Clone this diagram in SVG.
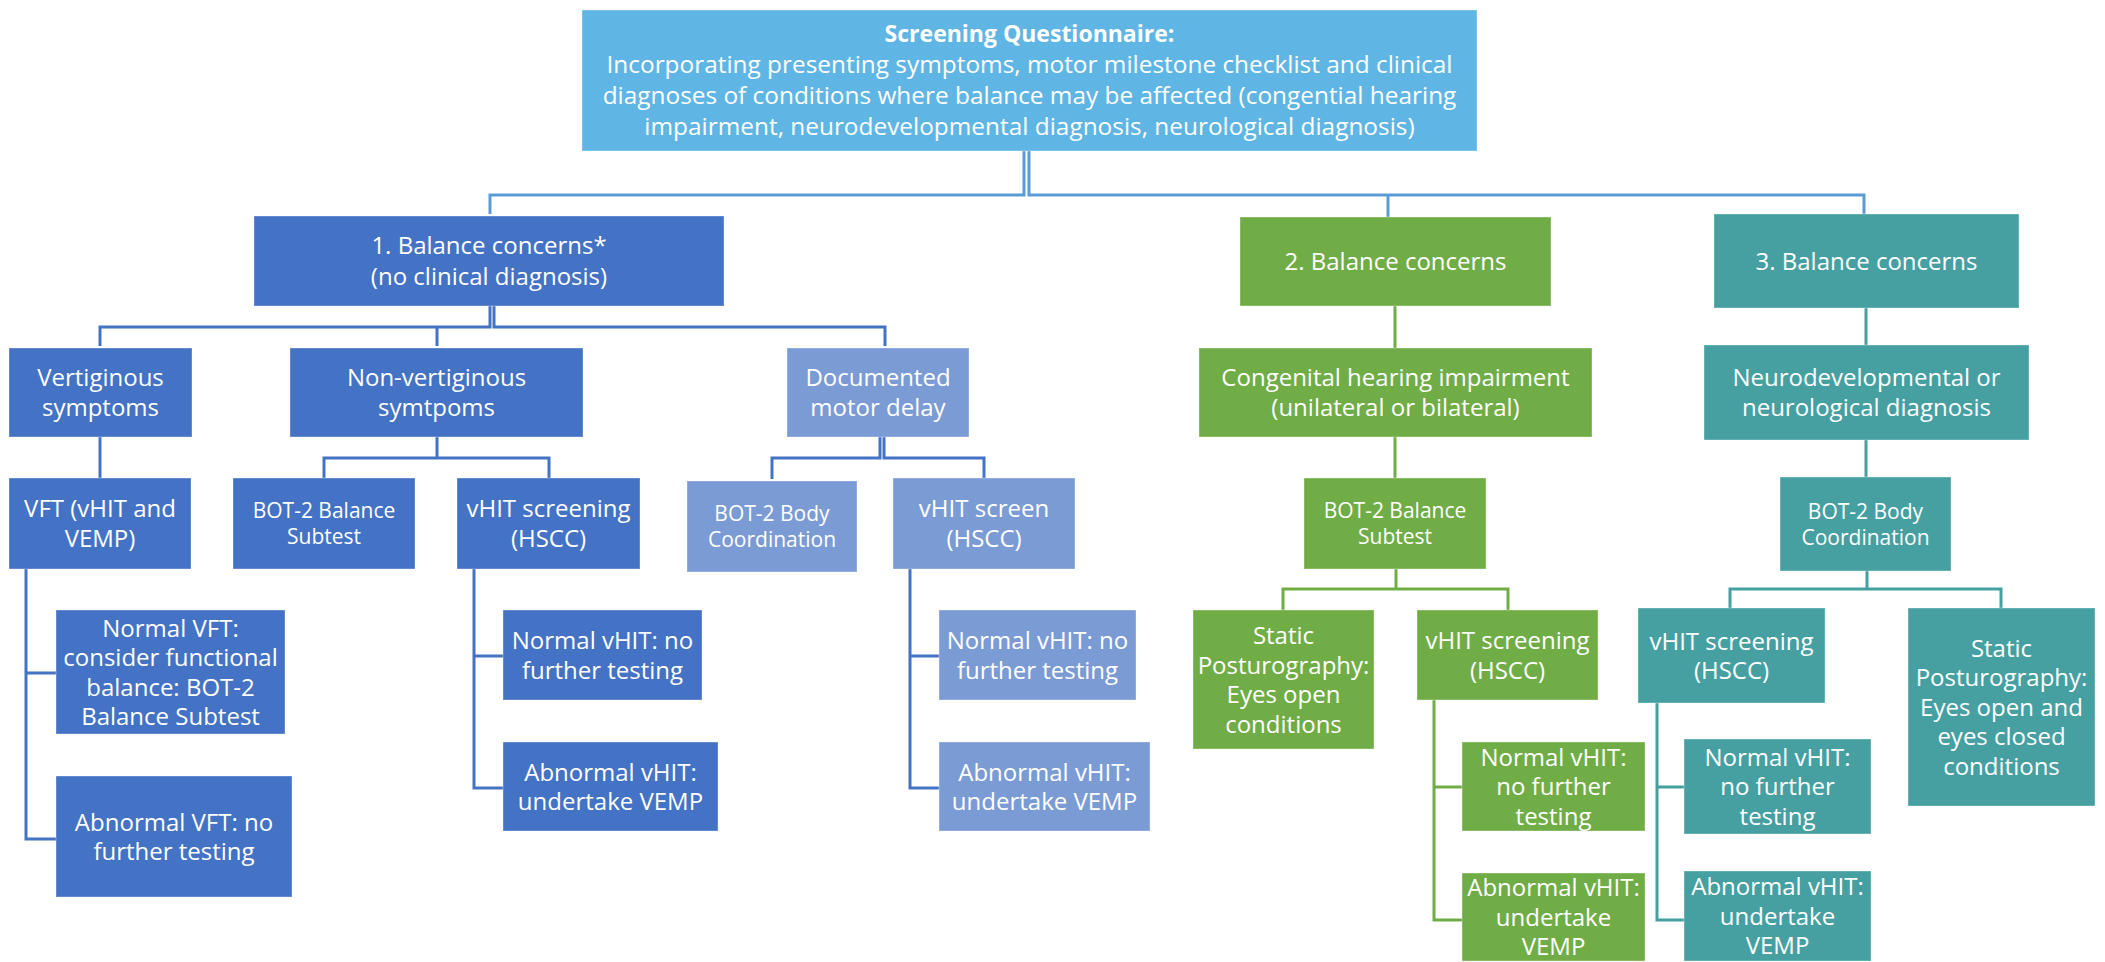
<svg xmlns="http://www.w3.org/2000/svg" width="2105" height="962" viewBox="0 0 2105 962">
<style>
text{font-family:"Open Sans","Liberation Sans",sans-serif;fill:#fff;text-anchor:middle}
.f24{font-size:24px}
.f21{font-size:21px}
.f23{font-size:24.4px}
.b{font-weight:bold;font-size:23px}
.sky{fill:#5FB6E4}
.blue{fill:#4472C4}
.lite{fill:#7B9BD5}
.green{fill:#70AD47}
.teal{fill:#46A0A2}
rect{stroke:#fff;stroke-opacity:0.35;stroke-width:1}
.c{fill:none;stroke-width:3}
.cs{stroke:#5B9BD5}
.cb{stroke:#4472C4}
.cg{stroke:#70AD47}
.ct{stroke:#46A0A2}
</style>
<rect width="2105" height="962" fill="#fff" stroke="none"/>
<g id="connectors">
<path class="c cs" d="M1024,151 V195 H490 V214"/>
<path class="c cs" d="M1029,151 V195 H1864 V214 M1388,195 V217"/>
<path class="c cb" stroke-width="2" d="M490,306 V327 H100 V346"/>
<path class="c cb" stroke-width="2" d="M494,306 V327 H885 V346"/>
<path class="c cb" d="M437,327 V346 M100,437 V478"/>
<path class="c cb" d="M437,437 V458 H324 V478 M437,458 H549 V478"/>
<path class="c cb" stroke-width="2" d="M880,437 V458 H772 V479"/>
<path class="c cb" stroke-width="2" d="M884,437 V458 H984 V478"/>
<path class="c cb" d="M26,569 V839 H56 M26,673 H56"/>
<path class="c cb" d="M474,569 V788 H503 M474,656 H503"/>
<path class="c cb" d="M910,569 V788 H939 M910,656 H939"/>
<path class="c cg" d="M1395,306 V348 M1395,437 V478"/>
<path class="c cg" d="M1396,569 V589 H1283 V610 M1396,589 H1508 V610"/>
<path class="c cg" d="M1434,700 V920 H1462 M1434,787 H1462"/>
<path class="c ct" d="M1866,308 V345 M1866,440 V477"/>
<path class="c ct" d="M1867,571 V589 H1730 V608 M1867,589 H2001 V608"/>
<path class="c ct" d="M1657,703 V920 H1684 M1657,787 H1684"/>
</g>
<g id="screening">
<rect class="sky" x="582" y="10" width="895" height="141"/>
<text class="b" x="1029.5" y="42">Screening Questionnaire:</text>
<text class="f23" x="1029.5" y="73">Incorporating presenting symptoms, motor milestone checklist and clinical</text>
<text class="f23" x="1029.5" y="104">diagnoses of conditions where balance may be affected (congential hearing</text>
<text class="f23" x="1029.5" y="135">impairment, neurodevelopmental diagnosis, neurological diagnosis)</text>
</g>
<g id="n1">
<rect class="blue" x="254" y="216" width="470" height="90"/>
<text class="f24" x="489" y="254">1. Balance concerns*</text>
<text class="f24" x="489" y="285">(no clinical diagnosis)</text>
</g>
<g id="n2">
<rect class="green" x="1240" y="217" width="311" height="89"/>
<text class="f24" x="1395.5" y="270">2. Balance concerns</text>
</g>
<g id="n3">
<rect class="teal" x="1714" y="214" width="305" height="94"/>
<text class="f24" x="1866.5" y="269.5">3. Balance concerns</text>
</g>
<g id="vertiginous">
<rect class="blue" x="9" y="348" width="183" height="89"/>
<text class="f24" x="100.5" y="386">Vertiginous</text>
<text class="f24" x="100.5" y="416">symptoms</text>
</g>
<g id="nonvertiginous">
<rect class="blue" x="290" y="348" width="293" height="89"/>
<text class="f24" x="436.5" y="386">Non-vertiginous</text>
<text class="f24" x="436.5" y="416">symtpoms</text>
</g>
<g id="motordelay">
<rect class="lite" x="787" y="348" width="182" height="89"/>
<text class="f24" x="878" y="386">Documented</text>
<text class="f24" x="878" y="416">motor delay</text>
</g>
<g id="hearing">
<rect class="green" x="1199" y="348" width="393" height="89"/>
<text class="f24" x="1395.5" y="386">Congenital hearing impairment</text>
<text class="f24" x="1395.5" y="416">(unilateral or bilateral)</text>
</g>
<g id="neuro">
<rect class="teal" x="1704" y="345" width="325" height="95"/>
<text class="f24" x="1866.5" y="386">Neurodevelopmental or</text>
<text class="f24" x="1866.5" y="416">neurological diagnosis</text>
</g>
<g id="vft">
<rect class="blue" x="9" y="478" width="182" height="91"/>
<text class="f24" x="100" y="517">VFT (vHIT and</text>
<text class="f24" x="100" y="547">VEMP)</text>
</g>
<g id="bot2-balance-1">
<rect class="blue" x="233" y="478" width="182" height="91"/>
<text class="f21" x="324" y="518">BOT-2 Balance</text>
<text class="f21" x="324" y="544">Subtest</text>
</g>
<g id="vhit-1">
<rect class="blue" x="457" y="478" width="183" height="91"/>
<text class="f24" x="548.5" y="517">vHIT screening</text>
<text class="f24" x="548.5" y="547">(HSCC)</text>
</g>
<g id="bot2-body-1">
<rect class="lite" x="687" y="481" width="170" height="91"/>
<text class="f21" x="772" y="521">BOT-2 Body</text>
<text class="f21" x="772" y="547">Coordination</text>
</g>
<g id="vhit-screen-1">
<rect class="lite" x="893" y="478" width="182" height="91"/>
<text class="f24" x="984" y="517">vHIT screen</text>
<text class="f24" x="984" y="547">(HSCC)</text>
</g>
<g id="bot2-balance-2">
<rect class="green" x="1304" y="478" width="182" height="91"/>
<text class="f21" x="1395" y="518">BOT-2 Balance</text>
<text class="f21" x="1395" y="544">Subtest</text>
</g>
<g id="bot2-body-3">
<rect class="teal" x="1780" y="477" width="171" height="94"/>
<text class="f21" x="1865.5" y="518.5">BOT-2 Body</text>
<text class="f21" x="1865.5" y="544.5">Coordination</text>
</g>
<g id="normal-vft">
<rect class="blue" x="56" y="610" width="229" height="124"/>
<text class="f24" x="170.5" y="636.5">Normal VFT:</text>
<text class="f24" x="170.5" y="666">consider functional</text>
<text class="f24" x="170.5" y="695.5">balance: BOT-2</text>
<text class="f24" x="170.5" y="725">Balance Subtest</text>
</g>
<g id="abnormal-vft">
<rect class="blue" x="56" y="776" width="236" height="121"/>
<text class="f24" x="174" y="830.5">Abnormal VFT: no</text>
<text class="f24" x="174" y="860">further testing</text>
</g>
<g id="normal-vhit-1">
<rect class="blue" x="503" y="610" width="199" height="90"/>
<text class="f24" x="602.5" y="649">Normal vHIT: no</text>
<text class="f24" x="602.5" y="678.5">further testing</text>
</g>
<g id="abnormal-vhit-1">
<rect class="blue" x="503" y="742" width="215" height="89"/>
<text class="f24" x="610.5" y="780.5">Abnormal vHIT:</text>
<text class="f24" x="610.5" y="810">undertake VEMP</text>
</g>
<g id="normal-vhit-md">
<rect class="lite" x="939" y="610" width="197" height="90"/>
<text class="f24" x="1037.5" y="649">Normal vHIT: no</text>
<text class="f24" x="1037.5" y="678.5">further testing</text>
</g>
<g id="abnormal-vhit-md">
<rect class="lite" x="939" y="742" width="211" height="89"/>
<text class="f24" x="1044.5" y="780.5">Abnormal vHIT:</text>
<text class="f24" x="1044.5" y="810">undertake VEMP</text>
</g>
<g id="static-2">
<rect class="green" x="1193" y="610" width="181" height="139"/>
<text class="f24" x="1283.5" y="644">Static</text>
<text class="f24" x="1283.5" y="673.5">Posturography:</text>
<text class="f24" x="1283.5" y="703">Eyes open</text>
<text class="f24" x="1283.5" y="732.5">conditions</text>
</g>
<g id="vhit-2">
<rect class="green" x="1417" y="610" width="181" height="90"/>
<text class="f24" x="1507.5" y="649">vHIT screening</text>
<text class="f24" x="1507.5" y="678.5">(HSCC)</text>
</g>
<g id="vhit-3">
<rect class="teal" x="1638" y="608" width="187" height="95"/>
<text class="f24" x="1731.5" y="649.5">vHIT screening</text>
<text class="f24" x="1731.5" y="679">(HSCC)</text>
</g>
<g id="static-3">
<rect class="teal" x="1908" y="608" width="187" height="198"/>
<text class="f24" x="2001.5" y="656.5">Static</text>
<text class="f24" x="2001.5" y="686">Posturography:</text>
<text class="f24" x="2001.5" y="715.5">Eyes open and</text>
<text class="f24" x="2001.5" y="745">eyes closed</text>
<text class="f24" x="2001.5" y="774.5">conditions</text>
</g>
<g id="normal-vhit-2">
<rect class="green" x="1462" y="742" width="183" height="89"/>
<text class="f24" x="1553.5" y="765.5">Normal vHIT:</text>
<text class="f24" x="1553.5" y="795">no further</text>
<text class="f24" x="1553.5" y="824.5">testing</text>
</g>
<g id="abnormal-vhit-2">
<rect class="green" x="1462" y="873" width="183" height="88"/>
<text class="f24" x="1553.5" y="896">Abnormal vHIT:</text>
<text class="f24" x="1553.5" y="925.5">undertake</text>
<text class="f24" x="1553.5" y="955">VEMP</text>
</g>
<g id="normal-vhit-3">
<rect class="teal" x="1684" y="739" width="187" height="95"/>
<text class="f24" x="1777.5" y="765.5">Normal vHIT:</text>
<text class="f24" x="1777.5" y="795">no further</text>
<text class="f24" x="1777.5" y="824.5">testing</text>
</g>
<g id="abnormal-vhit-3">
<rect class="teal" x="1684" y="871" width="187" height="90"/>
<text class="f24" x="1777.5" y="895">Abnormal vHIT:</text>
<text class="f24" x="1777.5" y="924.5">undertake</text>
<text class="f24" x="1777.5" y="954">VEMP</text>
</g>
</svg>
